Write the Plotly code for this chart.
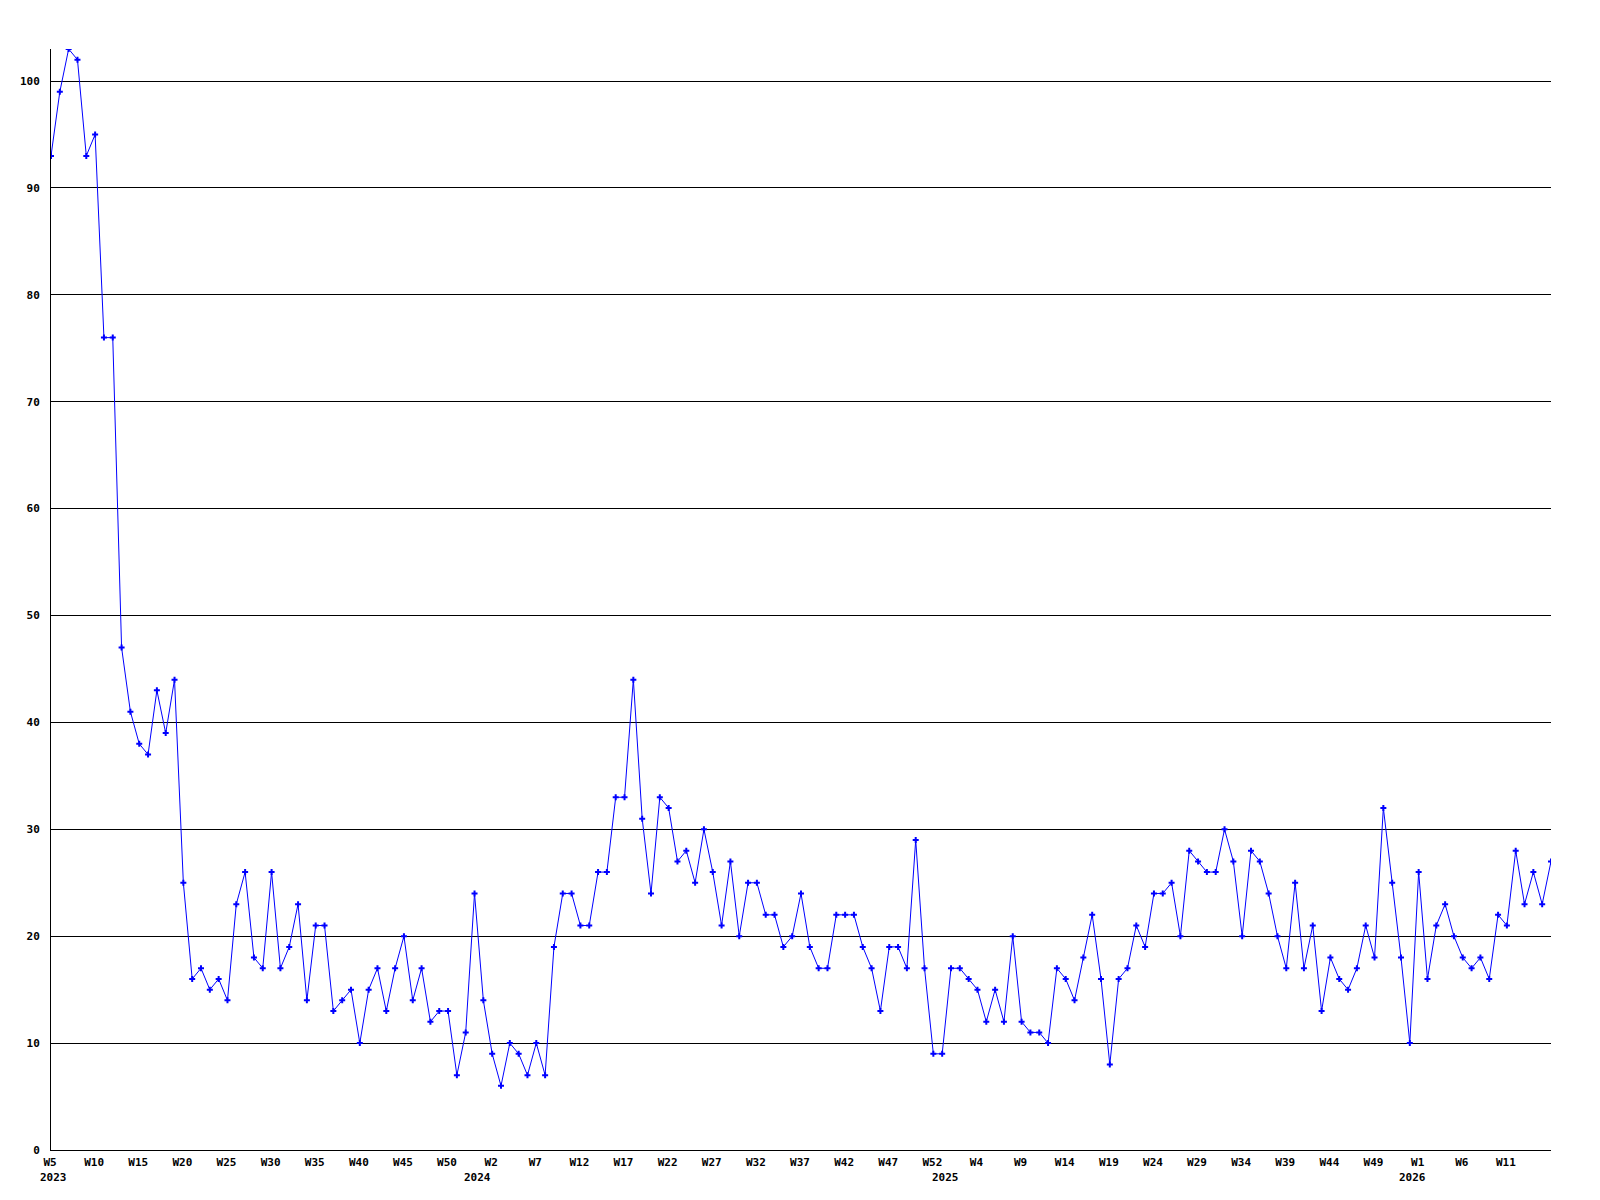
import plotly.graph_objects as go

# Weekly series: starts at 2023 W5, the source numbers weeks 1..53 each year
start_year = 2023
start_week = 5
weeks_per_year = 53

values = [
    93, 99, 103, 102, 93, 95, 76, 76, 47, 41,
    38, 37, 43, 39, 44, 25, 16, 17, 15, 16,
    14, 23, 26, 18, 17, 26, 17, 19, 23, 14,
    21, 21, 13, 14, 15, 10, 15, 17, 13, 17,
    20, 14, 17, 12, 13, 13, 7, 11, 24, 14,
    9, 6, 10, 9, 7, 10, 7, 19, 24, 24,
    21, 21, 26, 26, 33, 33, 44, 31, 24, 33,
    32, 27, 28, 25, 30, 26, 21, 27, 20, 25,
    25, 22, 22, 19, 20, 24, 19, 17, 17, 22,
    22, 22, 19, 17, 13, 19, 19, 17, 29, 17,
    9, 9, 17, 17, 16, 15, 12, 15, 12, 20,
    12, 11, 11, 10, 17, 16, 14, 18, 22, 16,
    8, 16, 17, 21, 19, 24, 24, 25, 20, 28,
    27, 26, 26, 30, 27, 20, 28, 27, 24, 20,
    17, 25, 17, 21, 13, 18, 16, 15, 17, 21,
    18, 32, 25, 18, 10, 26, 16, 21, 23, 20,
    18, 17, 18, 16, 22, 21, 28, 23, 26, 23,
    27,
]

y_ticks = [0, 10, 20, 30, 40, 50, 60, 70, 80, 90, 100]
tick_step = 5

# build week/year labels for each point
weeks = []
years = []
w, yr = start_week, start_year
for _ in values:
    weeks.append(w)
    years.append(yr)
    w += 1
    if w > weeks_per_year:
        w = 1
        yr += 1

xs = list(range(len(values)))
tick_vals = list(range(0, len(values) - 1, tick_step))
tick_text = [f"W{weeks[i]}" for i in tick_vals]

year_positions = [i for i in xs if i == 0 or weeks[i] == 1]

FONT = "DejaVu Sans Mono"

fig = go.Figure()
fig.add_trace(go.Scatter(
    x=xs, y=values, mode="lines+markers",
    line=dict(color="#0000FF", width=1),
    marker=dict(symbol="cross", size=5, color="#0000FF", line=dict(width=0)),
    showlegend=False, hoverinfo="skip",
))

for i in year_positions:
    fig.add_annotation(
        x=i, y=0, xref="x", yref="paper", yanchor="top",
        yshift=-19, xshift=-6 if i else 2, showarrow=False,
        text=str(years[i]),
        font=dict(family=FONT, size=11, color="black", weight="bold"),
    )

fig.update_layout(
    width=1584, height=1184,
    paper_bgcolor="white", plot_bgcolor="white",
    margin=dict(l=43, r=41, t=41, b=42, autoexpand=False),
    xaxis=dict(
        range=[0, len(values) - 1], showgrid=False, zeroline=False,
        showline=True, linecolor="black", linewidth=1,
        tickmode="array", tickvals=tick_vals, ticktext=tick_text,
        ticks="", ticklabelstandoff=2, ticklabelshift=-1,
        tickfont=dict(family=FONT, size=11, color="black", weight="bold"),
    ),
    yaxis=dict(
        range=[0, max(values)], showgrid=True, gridcolor="black", gridwidth=1,
        zeroline=False, showline=True, linecolor="black", linewidth=1,
        tickmode="array", tickvals=y_ticks, ticktext=[str(v) for v in y_ticks],
        ticks="", ticklabelstandoff=8,
        tickfont=dict(family=FONT, size=11, color="black", weight="bold"),
    ),
)

fig.write_html("out.html")
